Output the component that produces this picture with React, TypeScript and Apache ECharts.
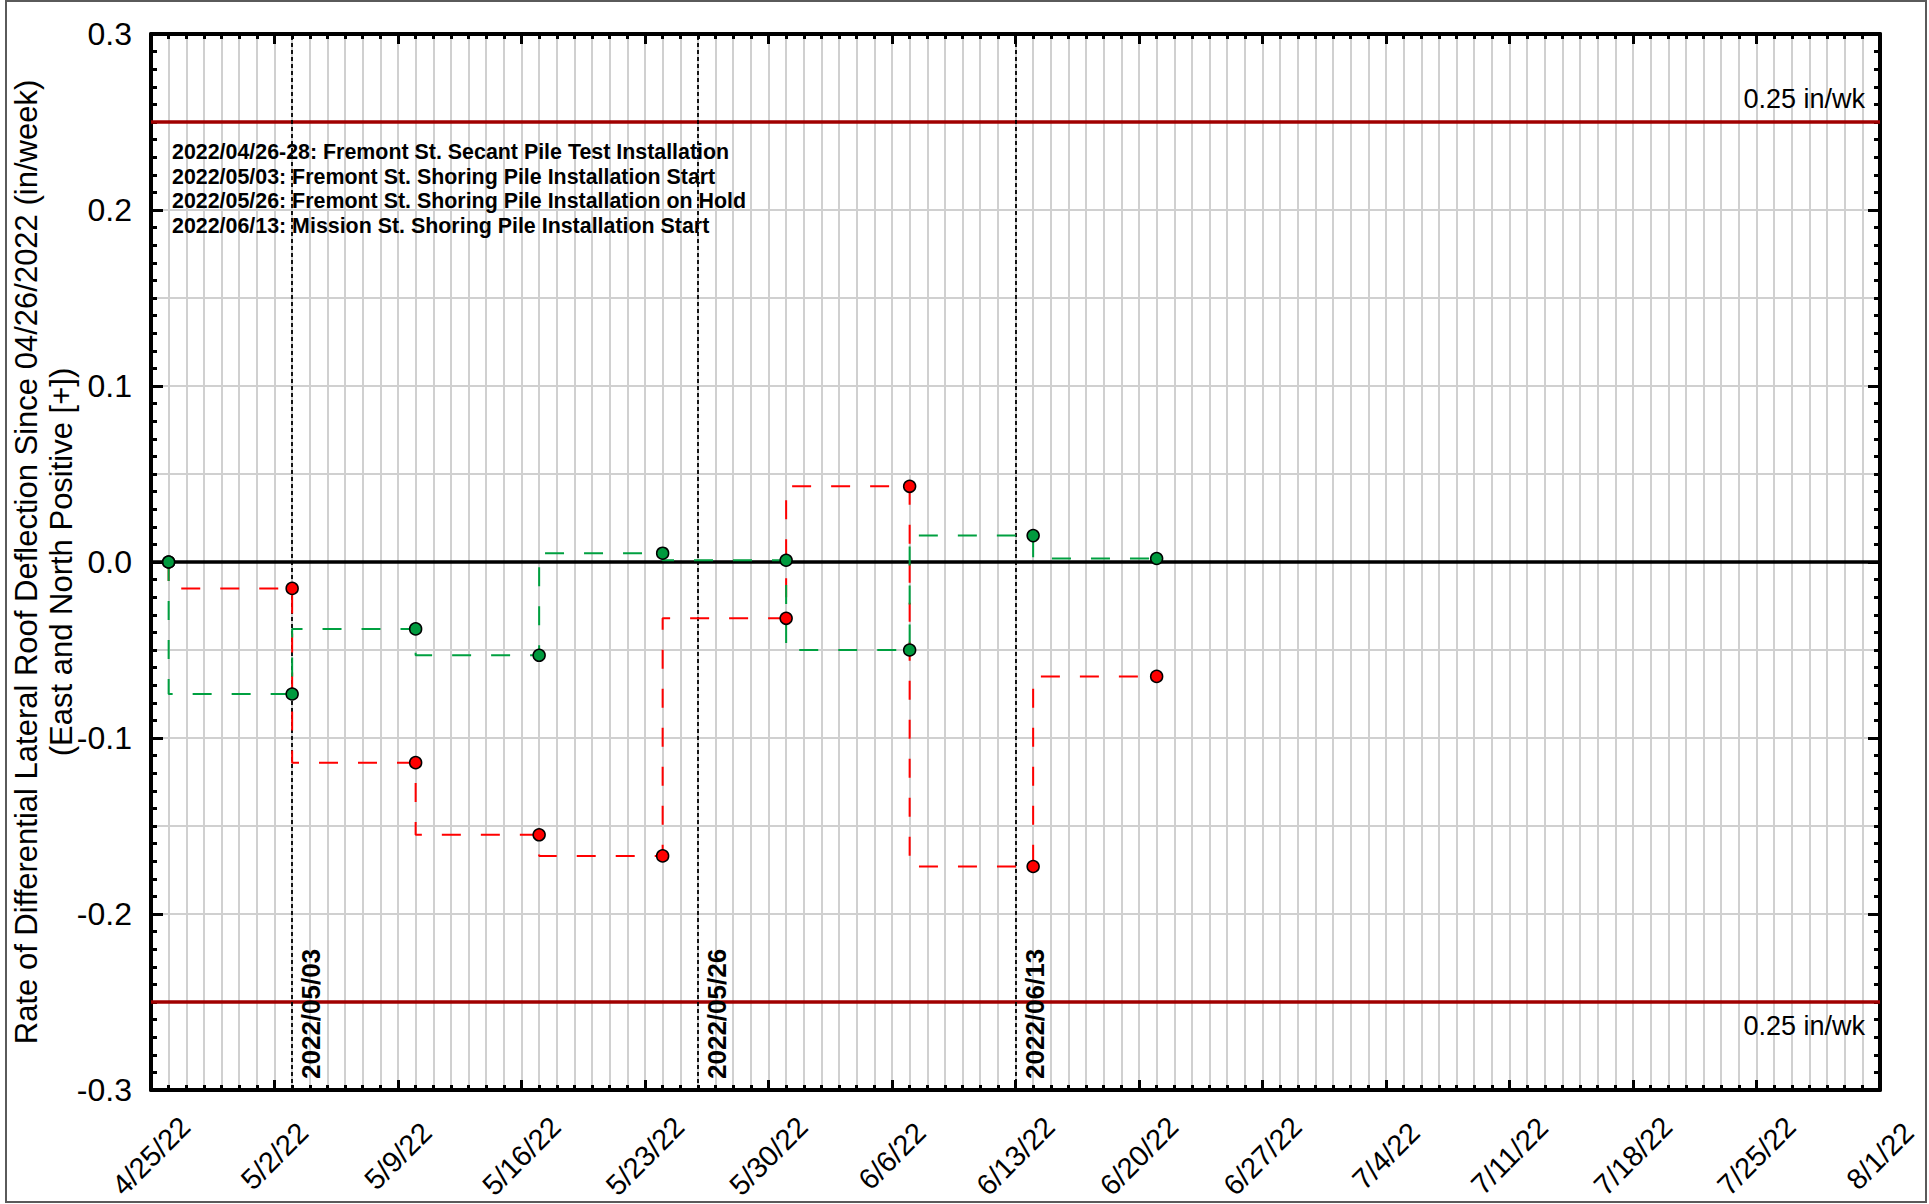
import React, { useEffect, useRef } from 'react';
import * as echarts from 'echarts';

// ---------- data ----------
const AXIS_START = '2022-04-25';
const AXIS_END = '2022-08-01';
const TICK_DAYS = 7;

const readingDates = [
  '2022-04-26', '2022-05-03', '2022-05-10', '2022-05-17', '2022-05-24',
  '2022-05-31', '2022-06-07', '2022-06-14', '2022-06-21',
];
// East-West (red) and North-South (green) rates, in/week
const redRates = [0.0, -0.015, -0.114, -0.155, -0.167, -0.032, 0.043, -0.173, -0.065];
const greenRates = [0.0, -0.075, -0.038, -0.053, 0.005, 0.001, -0.05, 0.015, 0.002];

const eventDates = ['2022-05-03', '2022-05-26', '2022-06-13'];
const eventLabels = ['2022/05/03', '2022/05/26', '2022/06/13'];

const annotations = [
  '2022/04/26-28: Fremont St. Secant Pile Test Installation',
  '2022/05/03: Fremont St. Shoring Pile Installation Start',
  '2022/05/26: Fremont St. Shoring Pile Installation on Hold',
  '2022/06/13: Mission St. Shoring Pile Installation Start',
];

const limitValues = [0.25, -0.25];
const limitLabel = '0.25 in/wk';
const yMin = -0.3;
const yMax = 0.3;
const yTitle = 'Rate of Differential Lateral Roof Deflection Since 04/26/2022 (in/week)\n(East and North Positive [+])';

// ---------- helpers ----------
const DAY = 86400000;
const dayIndex = (s: string) => Math.round((Date.parse(s) - Date.parse(AXIS_START)) / DAY);
const span = dayIndex(AXIS_END);
const fmtDate = (v: number) => {
  const d = new Date(Date.parse(AXIS_START) + Math.round(v) * DAY);
  return `${d.getUTCMonth() + 1}/${d.getUTCDate()}/${String(d.getUTCFullYear()).slice(2)}`;
};

const FONT = "'Liberation Sans', Arial, Helvetica, sans-serif";
const gridLine = { show: true, lineStyle: { color: '#d0d0d0', width: 2 } };
const blackAxis = { show: true, onZero: false, lineStyle: { color: '#000', width: 4 } };

const xBase = {
  type: 'value',
  min: 0,
  max: span,
  interval: TICK_DAYS,
  axisLine: blackAxis,
  axisTick: { show: true, inside: true, length: 10, lineStyle: { color: '#000', width: 3 } },
  minorTick: { show: true, splitNumber: TICK_DAYS, length: 5, lineStyle: { color: '#000', width: 3 } },
};

const yBase = {
  type: 'value',
  min: yMin,
  max: yMax,
  interval: 0.1,
  axisLine: blackAxis,
  axisTick: { show: true, inside: true, length: 12, lineStyle: { color: '#000', width: 3 } },
  minorTick: { show: true, splitNumber: 10, length: 6, lineStyle: { color: '#000', width: 3 } },
};

const makeSeries = (name: string, values: number[], color: string, lineColor: string, extra: any = {}) => ({
  name,
  type: 'line',
  xAxisIndex: 0,
  yAxisIndex: 0,
  step: 'start',
  data: readingDates.map((d, i) => [dayIndex(d), values[i]]),
  symbol: 'circle',
  symbolSize: 12,
  itemStyle: { color, borderColor: '#000', borderWidth: 1.5 },
  lineStyle: { color: lineColor, width: 2, type: [19, 20] },
  ...extra,
});

const option: any = {
  animation: false,
  textStyle: { fontFamily: FONT },
  grid: {
    left: 151,
    top: 34,
    width: 1729,
    height: 1056,
    containLabel: false,
    outerBoundsMode: 'none',
  },
  xAxis: [
    {
      ...xBase,
      position: 'bottom',
      splitLine: gridLine,
      minorSplitLine: gridLine,
      axisLabel: {
        rotate: 45,
        align: 'center',
        verticalAlign: 'middle',
        margin: 66,
        fontSize: 29,
        color: '#000',
        fontFamily: FONT,
        showMinLabel: true,
        showMaxLabel: true,
        formatter: fmtDate,
      },
    },
    {
      ...xBase,
      position: 'top',
      axisLabel: { show: false },
      splitLine: { show: false },
    },
  ],
  yAxis: [
    {
      ...yBase,
      position: 'left',
      splitLine: gridLine,
      axisLabel: {
        fontSize: 32,
        color: '#000',
        fontFamily: FONT,
        margin: 19,
        formatter: (v: number) => v.toFixed(1),
      },
      name: yTitle,
      nameLocation: 'middle',
      nameGap: 72,
      nameMoveOverlap: false,
      nameTextStyle: { fontSize: 31, lineHeight: 35, color: '#000', fontFamily: FONT },
    },
    {
      ...yBase,
      position: 'right',
      axisLabel: { show: false },
      splitLine: { show: false },
    },
    {
      type: 'value',
      min: yMin,
      max: yMax,
      interval: 0.05,
      axisLine: { show: false },
      axisTick: { show: false },
      axisLabel: { show: false },
      splitLine: gridLine,
    },
  ],
  series: [
    makeSeries('East (+)', redRates, '#ff0000', '#ff0000', {
      markLine: {
        silent: true,
        symbol: ['none', 'none'],
        z: 1,
        animation: false,
        data: [
          { yAxis: 0, lineStyle: { color: '#000', width: 3.5, type: 'solid' }, label: { show: false } },
          ...limitValues.map((v) => ({
            yAxis: v,
            lineStyle: { color: '#a00000', width: 3.5, type: 'solid' },
            label: {
              show: true,
              position: v > 0 ? 'insideEndTop' : 'insideEndBottom',
              formatter: limitLabel,
              fontSize: 27,
              color: '#000',
              fontFamily: FONT,
              distance: [15, 10],
            },
          })),
          ...eventDates.map((d, i) => ({
            xAxis: dayIndex(d),
            lineStyle: { color: '#000', width: 1.8, type: [4, 3] },
            label: {
              show: true,
              position: 'insideStartBottom',
              formatter: eventLabels[i],
              fontSize: 26,
              fontWeight: 'bold',
              color: '#000',
              fontFamily: FONT,
              distance: [11, 6],
            },
          })),
        ],
      },
    }),
    makeSeries('North (+)', greenRates, '#009a3e', '#00a040'),
  ],
  graphic: [
    {
      type: 'rect',
      silent: true,
      z: -10,
      shape: { x: 6, y: 1, width: 1920, height: 1201 },
      style: { fill: 'none', stroke: '#5a5a5a', lineWidth: 2 },
    },
    {
      type: 'text',
      left: 172,
      top: 140,
      z: 10,
      style: {
        text: annotations.join('\n'),
        fontSize: 21.4,
        fontWeight: 'bold',
        fontFamily: FONT,
        lineHeight: 24.5,
        fill: '#000',
      },
    },
  ],
};

export default function App() {
  const ref = useRef<HTMLDivElement>(null);
  useEffect(() => {
    const chart = echarts.init(ref.current!, null, { renderer: 'svg' });
    chart.setOption(option);
    return () => chart.dispose();
  }, []);
  return (
    <div
      ref={ref}
      style={{ position: 'absolute', left: 0, top: 0, width: 1929, height: 1204, background: '#fff' }}
    />
  );
}
